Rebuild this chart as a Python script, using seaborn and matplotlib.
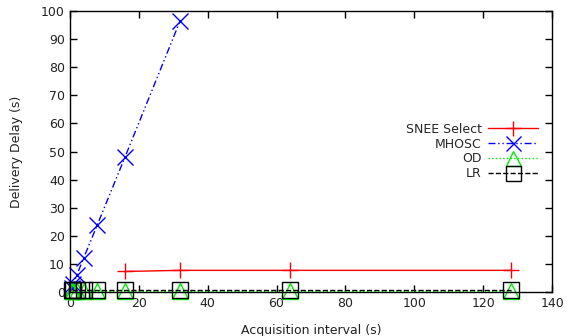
import pandas as pd
import seaborn as sns
import matplotlib.pyplot as plt

# Data
snee_x = [16, 32, 64, 128]
snee_y = [7.3, 7.7, 7.7, 7.7]

mhosc_x = [0.5, 1, 2, 4, 8, 16, 32]
mhosc_y = [1.5, 3.0, 6.0, 12.1, 24.0, 48.0, 96.5]

od_x = [0.5, 1, 2, 4, 8, 16, 32, 64, 128]
od_y = [0.5, 0.5, 0.5, 0.5, 0.5, 0.5, 0.5, 0.5, 0.5]

lr_x = [0.5, 1, 2, 4, 8, 16, 32, 64, 128]
lr_y = [0.8, 0.8, 0.8, 0.8, 0.8, 0.8, 0.8, 0.8, 0.8]

sns.set_style('ticks')
plt.rcParams['font.family'] = ['DejaVu Sans']
plt.rcParams['font.size'] = 9

fig = plt.figure(figsize=(5.68, 3.36), dpi=100)
ax = fig.add_axes([0.123, 0.131, 0.849, 0.836])

series = [
    ('SNEE Select', snee_x, snee_y, 'red', '-', '+', 'full'),
    ('MHOSC', mhosc_x, mhosc_y, 'blue', (0, (5, 2, 1, 2, 1, 2)), 'x', 'full'),
    ('OD', od_x, od_y, '#00ee00', ':', '^', 'none'),
    ('LR', lr_x, lr_y, 'black', '--', 's', 'none'),
]

for name, xs, ys, col, ls, mk, fill in series:
    df = pd.DataFrame({'x': xs, 'y': ys})
    sns.lineplot(data=df, x='x', y='y', ax=ax, color=col, linestyle=ls,
                 linewidth=1, marker=mk, markersize=12, markeredgewidth=1,
                 markeredgecolor=col, fillstyle=fill, label=name,
                 clip_on=False)

ax.set_xlim(0, 140)
ax.set_ylim(0, 100)
ax.set_xticks(range(0, 141, 20))
ax.set_yticks(range(0, 101, 10))
ax.tick_params(direction='in', top=True, right=True, length=5, width=1,
               labelsize=9, colors='black', labelcolor='#222222')
for s in ax.spines.values():
    s.set_color('black')
    s.set_linewidth(1)

ax.set_xlabel('Acquisition interval (s)', fontsize=9, color='#222222',
              labelpad=10)
ax.set_ylabel('Delivery Delay (s)', fontsize=9, color='#222222',
              labelpad=13)

ax.legend(loc='center right', bbox_to_anchor=(0.984, 0.5), frameon=False,
          markerfirst=False, handlelength=4.0, fontsize=9, labelspacing=0.15,
          handletextpad=0.5, borderpad=0, markerscale=0.9)

fig.savefig('out.png', dpi=100)
